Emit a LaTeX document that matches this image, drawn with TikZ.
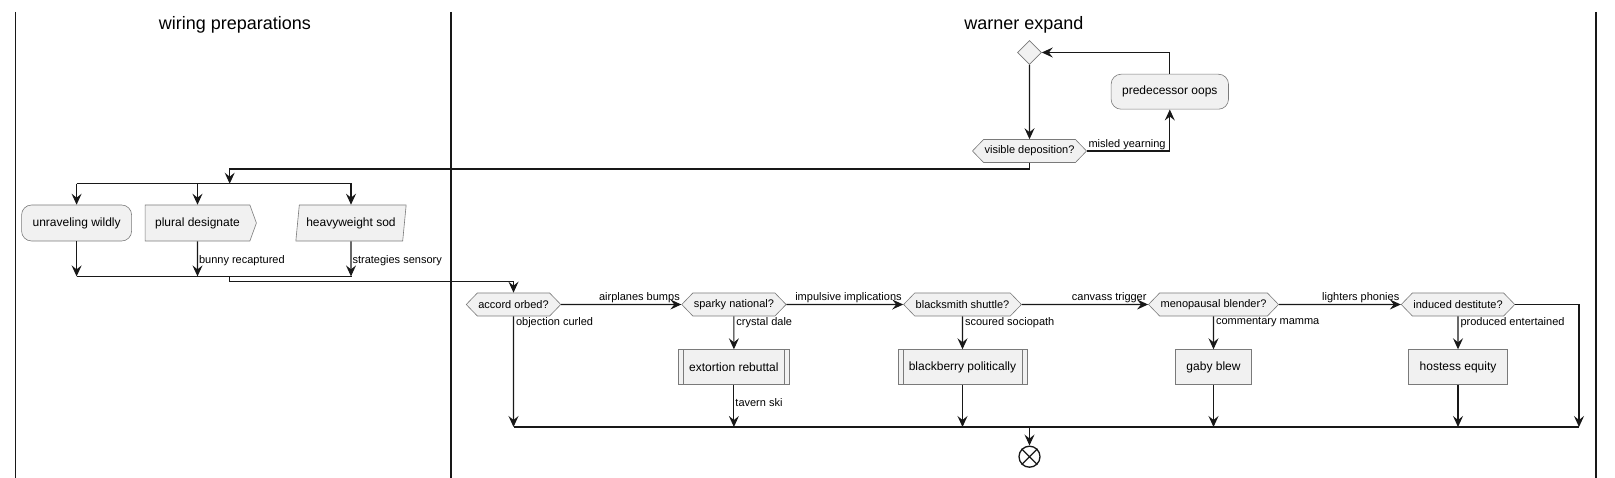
\documentclass[tikz,border=0pt]{standalone}
\usepackage{fontspec}
\setmainfont{Liberation Sans}
\usetikzlibrary{arrows.meta,positioning,shapes.geometric,shapes.symbols}
\usepackage{xcolor}
\definecolor{boxfill}{HTML}{F1F1F1}
\definecolor{boxline}{HTML}{7A7A7A}
\definecolor{flowline}{HTML}{181818}
\tikzset{
  shapebase/.style={draw=boxline,fill=boxfill,line width=0.6pt,font=\fontsize{12}{14}\selectfont},
  actbox/.style={shapebase,rectangle,inner xsep=11pt,minimum height=35pt},
  roundbox/.style={actbox,rounded corners=10pt},
  subbox/.style={actbox,path picture={
      \draw[boxline,line width=0.6pt]
        ([xshift=5pt]path picture bounding box.north west) -- ([xshift=5pt]path picture bounding box.south west)
        ([xshift=-5pt]path picture bounding box.north east) -- ([xshift=-5pt]path picture bounding box.south east);}},
  flagbox/.style={shapebase,shape=signal,signal to=east,signal from=nowhere,signal pointer angle=140,inner xsep=10pt,minimum height=36pt},
  slantbox/.style={shapebase,trapezium,trapezium left angle=79,trapezium right angle=101,trapezium stretches=true,inner xsep=7pt,minimum height=36pt},
  query/.style={shapebase,shape=signal,signal to=west and east,signal pointer angle=92,inner xsep=1pt,inner ysep=0pt,minimum height=23pt,font=\fontsize{11}{13}\selectfont},
  mergept/.style={shapebase,diamond,minimum width=24pt,minimum height=24pt,inner sep=0pt},
  stopnode/.style={draw=flowline,line width=1.3pt,circle,minimum size=21pt,inner sep=0pt},
  flow/.style={draw=flowline,line width=1.1pt,-{Stealth[length=11pt,width=10pt,inset=4pt]}},
  bar/.style={draw=flowline,line width=1.4pt},
  lane/.style={draw=flowline,line width=1.2pt},
  lanetitle/.style={font=\fontsize{18}{22}\selectfont},
  lbl/.style={font=\fontsize{11}{13}\selectfont,inner sep=1pt}
}

\begin{document}
\begin{tikzpicture}[x=1pt,y=-1pt]
  \useasboundingbox (0,0) rectangle (1615,478);

  % Lanes
  \draw[lane] (15.5,12) -- (15.5,478);
  \draw[lane] (451,12) -- (451,478);
  \draw[lane] (1596,12) -- (1596,478);
  \node[lanetitle] (laneprep) at (235,25) {wiring preparations};
  \node[lanetitle] (laneexp) at (1024,25) {warner expand};

  % Loop at the top
  \node[mergept] (loopmerge) at (1029.5,52.5) {};
  \node[query] (visible) at (1029.5,151) {visible deposition?};
  \node[roundbox] (predecessor) at (1169.8,91.7) {predecessor oops};
  \draw[flow] (loopmerge) -- (visible);
  \draw[flow] (visible.east) -| node[lbl,anchor=south west,pos=0] {misled yearning} (predecessor.south);
  \draw[flow] (predecessor.north) |- (loopmerge.east);

  % Fork into three
  \coordinate (forkL) at (76.6,183.7);
  \coordinate (forkR) at (352,183.7);
  \coordinate (forkin) at (229.7,169);
  \draw[flow] (visible.south) |- (forkin) -- (forkin |- forkL);
  \draw[bar] (forkL) -- (forkR);
  \node[roundbox,minimum height=36pt] (unravel) at (76.6,223) {unraveling wildly};
  \node[flagbox] (plural) at (197.5,223) {plural designate};
  \node[slantbox] (heavy) at (351,223) {heavyweight sod};
  \foreach \n in {unravel,plural,heavy}
    \draw[flow] (\n.north |- forkL) -- (\n.north);

  % Join
  \coordinate (joinL) at (76.6,276.4);
  \coordinate (joinR) at (352,276.4);
  \coordinate (joinout) at (229.7,281.2);
  \draw[flow] (unravel) -- (unravel |- joinL);
  \draw[flow] (plural) -- node[lbl,anchor=west,pos=0.54] {bunny recaptured} (plural |- joinL);
  \draw[flow] (heavy) -- node[lbl,anchor=west,pos=0.54] {strategies sensory} (heavy |- joinL);
  \draw[bar] (joinL) -- (joinR);

  % Chain of questions
  \node[query] (accord) at (513.5,304.5) {accord orbed?};
  \node[query] (sparky) at (733.9,304.5) {sparky national?};
  \node[query] (blacksmith) at (962.5,304.5) {blacksmith shuttle?};
  \node[query] (menopausal) at (1213.5,304.5) {menopausal blender?};
  \node[query] (induced) at (1458,304.5) {induced destitute?};
  \draw[flow] (joinout |- joinL) -- (joinout) -| (accord.north);
  \draw[flow] (accord) -- node[lbl,anchor=south east,pos=1] {airplanes bumps} (sparky);
  \draw[flow] (sparky) -- node[lbl,anchor=south east,pos=1] {impulsive implications} (blacksmith);
  \draw[flow] (blacksmith) -- node[lbl,anchor=south east,pos=1] {canvass trigger} (menopausal);
  \draw[flow] (menopausal) -- node[lbl,anchor=south east,pos=1] {lighters phonies} (induced);

  % Actions under the questions
  \node[subbox,below=33pt of sparky] (extortion) {extortion rebuttal};
  \node[subbox,below=33pt of blacksmith] (blackberry) {blackberry politically};
  \node[actbox,below=33pt of menopausal] (gaby) {gaby blew};
  \node[actbox,below=33pt of induced] (hostess) {hostess equity};
  \draw[flow] (sparky) -- node[lbl,anchor=north west,pos=0,xshift=1pt] {crystal dale} (extortion);
  \draw[flow] (blacksmith) -- node[lbl,anchor=north west,pos=0,xshift=1pt] {scoured sociopath} (blackberry);
  \draw[flow] (menopausal) -- node[lbl,anchor=north west,pos=0,xshift=1pt] {commentary mamma} (gaby);
  \draw[flow] (induced) -- node[lbl,anchor=north west,pos=0,xshift=1pt] {produced entertained} (hostess);

  % Merge at the bottom
  \coordinate (mergeL) at (513.5,427);
  \coordinate (mergeR) at (1579,427);
  \draw[flow] (accord) -- node[lbl,anchor=north west,pos=0,xshift=1pt] {objection curled} (accord |- mergeL);
  \draw[flow] (extortion) -- node[lbl,anchor=west,pos=0.42] {tavern ski} (extortion |- mergeL);
  \draw[flow] (blackberry) -- (blackberry |- mergeL);
  \draw[flow] (gaby) -- (gaby |- mergeL);
  \draw[flow] (hostess) -- (hostess |- mergeL);
  \draw[flow] (induced.east) -| (mergeR);
  \draw[bar,line width=1.1pt] (mergeL) -- (mergeR);

  % Stop
  \node[stopnode] (stop) at (1029.5,456.7) {};
  \draw[flow] (stop |- mergeL) -- (stop);
  \draw[flowline,line width=1.3pt] (stop.north east) -- (stop.south west) (stop.north west) -- (stop.south east);
\end{tikzpicture}
\end{document}
